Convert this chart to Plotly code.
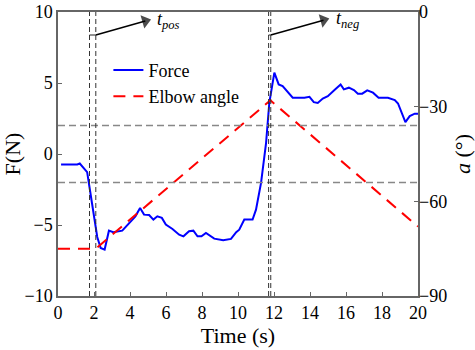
import plotly.graph_objects as go

# Force data (N)
force_t = [0.17, 1.07, 1.21, 1.62, 1.77, 2.0, 2.18, 2.37, 2.59, 2.83, 3.07, 3.57, 3.94, 4.3, 4.56,
           4.78, 5.06, 5.3, 5.52, 5.77, 5.99, 6.36, 6.73, 6.97, 7.28, 7.52, 7.75, 7.97, 8.22, 8.68,
           9.18, 9.61, 9.9, 10.07, 10.35, 10.81, 11.0, 11.28, 11.56, 11.74, 12.02, 12.26, 12.48,
           12.82, 13.04, 13.69, 13.97, 14.21, 14.43, 14.71, 14.99, 15.36, 15.7, 15.88, 16.16, 16.44,
           16.66, 16.9, 17.18, 17.5, 17.81, 18.33, 18.71, 18.89, 19.08, 19.3, 19.54, 19.82, 20.0]
force_v = [-0.74, -0.74, -0.67, -1.28, -2.5, -4.39, -5.84, -6.62, -6.73, -5.4, -5.51, -5.4, -4.85,
           -4.39, -3.8, -4.27, -4.3, -4.62, -4.39, -4.5, -4.97, -5.28, -5.68, -5.8, -5.44, -5.4,
           -5.8, -5.8, -5.56, -5.96, -6.08, -5.98, -5.5, -5.33, -4.62, -4.62, -3.92, -2.03, 0.79,
           3.61, 5.73, 4.9, 4.78, 4.32, 3.96, 3.96, 4.03, 3.65, 3.6, 3.91, 4.07, 4.5, 4.9, 4.55,
           4.67, 4.5, 4.25, 4.25, 4.48, 4.32, 3.96, 3.96, 3.8, 3.56, 2.9, 2.24, 2.67, 2.84, 2.84]

# Elbow angle (deg)
angle_t = [0, 2.1, 11.8, 20]
angle_v = [-75, -75, -28, -68]

# Event markers
t_pos_lines = [1.75, 2.1]
t_neg_lines = [11.7, 11.82]
thresholds = [2, -2]
arrow_start = {"pos": (2.1, 8.38), "neg": (11.82, 8.38)}
arrow_end = {"pos": (4.85, 9.36), "neg": (14.75, 9.42)}
labels = {"pos": "<i>t</i><sub><i>pos</i></sub>", "neg": "<i>t</i><sub><i>neg</i></sub>"}

FONT = "Liberation Serif, serif"
AX = "#666666"

fig = go.Figure()
fig.add_trace(go.Scatter(x=force_t, y=force_v, mode="lines", name="Force",
                         line=dict(color="#0000ff", width=2)))
fig.add_trace(go.Scatter(x=angle_t, y=angle_v, mode="lines", name="Elbow angle", yaxis="y2",
                         line=dict(color="#ff0000", width=2, dash="12px,8px")))

for th in thresholds:
    fig.add_shape(type="line", xref="x domain", x0=0, x1=1, yref="y", y0=th, y1=th,
                  line=dict(color="#888888", width=1.5, dash="7px,4px"))
for tv in t_pos_lines + t_neg_lines:
    fig.add_shape(type="line", xref="x", x0=tv, x1=tv, yref="y domain", y0=0, y1=1,
                  line=dict(color="#333333", width=1, dash="5px,3px"))

for key, lines in (("pos", t_pos_lines), ("neg", t_neg_lines)):
    sx, sy = arrow_start[key]
    ex, ey = arrow_end[key]
    fig.add_shape(type="line", xref="x", yref="y", x0=lines[0], x1=lines[1], y0=sy, y1=sy,
                  line=dict(color="#222222", width=1))
    fig.add_trace(go.Scatter(x=[sx, ex], y=[sy, ey], mode="lines+markers", showlegend=False,
                             hoverinfo="skip", line=dict(color="black", width=1.5),
                             marker=dict(symbol=["circle", "triangle-up"], size=[0, 12],
                                         angleref="previous", color="black",
                                         line=dict(width=0))))
    fig.add_annotation(x=ex, y=ey, xref="x", yref="y", text=labels[key], showarrow=False,
                       xanchor="left", yanchor="middle", xshift=10, yshift=1,
                       font=dict(family=FONT, size=18, color="black"))

fig.update_layout(
    width=475, height=350,
    margin=dict(l=58, r=57, t=12, b=54),
    paper_bgcolor="white", plot_bgcolor="white",
    font=dict(family=FONT, size=18, color="black"),
    showlegend=True,
    legend=dict(x=0.14, y=0.86, xanchor="left", yanchor="top", bgcolor="rgba(0,0,0,0)",
                font=dict(family=FONT, size=18), tracegroupgap=0, itemwidth=30),
    xaxis=dict(range=[0, 20], dtick=2, ticks="inside", ticklen=4, tickcolor=AX,
               showline=True, linecolor=AX, linewidth=1.5, mirror=True, showgrid=False,
               zeroline=False, automargin=False, title=dict(text="Time (s)", standoff=2),
               tickfont=dict(family=FONT, size=18)),
    yaxis=dict(range=[-10, 10], dtick=5, ticks="inside", ticklen=4, tickcolor=AX,
               showline=True, linecolor=AX, linewidth=1.5, mirror=True, showgrid=False,
               zeroline=False, automargin=False, title=dict(text="F(N)", standoff=6),
               tickfont=dict(family=FONT, size=18)),
    yaxis2=dict(range=[-90, 0], dtick=30, ticks="inside", ticklen=4, tickcolor=AX,
                overlaying="y", side="right", showline=False, showgrid=False, zeroline=False,
                automargin=False, title=dict(text="<i>a</i> (°)", standoff=8),
                tickfont=dict(family=FONT, size=18)),
)

fig.write_html("out.html")
